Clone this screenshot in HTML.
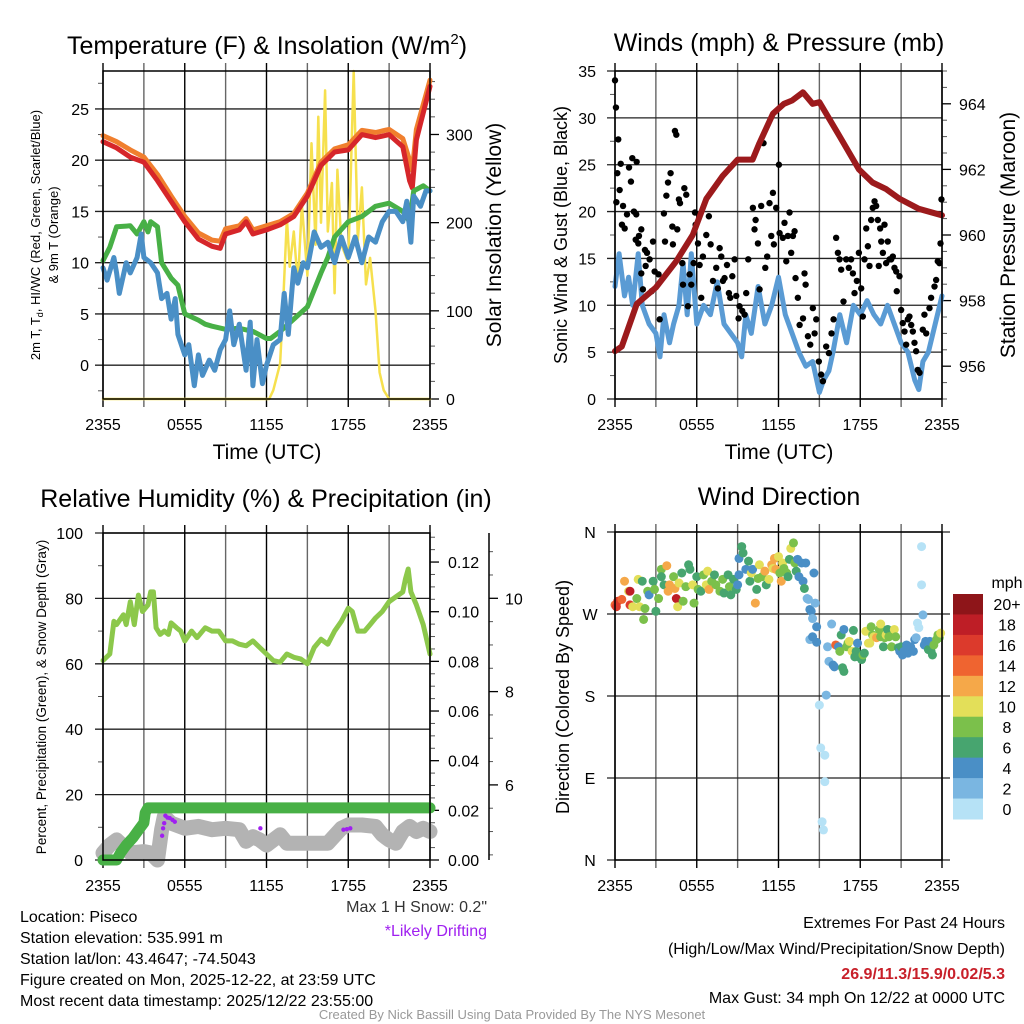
<!DOCTYPE html>
<html><head><meta charset="utf-8">
<style>
html,body{margin:0;padding:0;background:#fff;}
svg{display:block;font-family:"Liberation Sans",Arial,sans-serif;}
.nar{font-family:"Liberation Sans Narrow","Liberation Sans",sans-serif;}
</style></head>
<body>
<svg id="fig" width="1024" height="1024" viewBox="0 0 1024 1024" xmlns="http://www.w3.org/2000/svg">
<rect width="1024" height="1024" fill="#fff"/>
<text x="267" y="54" font-size="25" text-anchor="middle">Temperature (F) &amp; Insolation (W/m<tspan font-size="15" dy="-10">2</tspan><tspan dy="10">)</tspan></text>
<text x="779" y="51" font-size="25" text-anchor="middle">Winds (mph) &amp; Pressure (mb)</text>
<text x="266" y="507" font-size="25" text-anchor="middle">Relative Humidity (%) &amp; Precipitation (in)</text>
<text x="779" y="505" font-size="25" text-anchor="middle">Wind Direction</text>

<g class="nar" font-size="16">
<text x="20" y="922">Location: Piseco</text>
<text x="20" y="943">Station elevation: 535.991 m</text>
<text x="20" y="964">Station lat/lon: 43.4647; -74.5043</text>
<text x="20" y="985">Figure created on Mon, 2025-12-22, at 23:59 UTC</text>
<text x="20" y="1006">Most recent data timestamp: 2025/12/22 23:55:00</text>
</g>
<text class="nar" x="487" y="912" font-size="16" text-anchor="end" fill="#333">Max 1 H Snow: 0.2"</text>
<text class="nar" x="487" y="936" font-size="16" text-anchor="end" fill="#a020f0">*Likely Drifting</text>
<g class="nar" font-size="16" text-anchor="end">
<text x="1005" y="928">Extremes For Past 24 Hours</text>
<text x="1005" y="954">(High/Low/Max Wind/Precipitation/Snow Depth)</text>
<text x="1005" y="979" fill="#c8202a" font-weight="bold">26.9/11.3/15.9/0.02/5.3</text>
<text x="1005" y="1003">Max Gust: 34 mph On 12/22 at 0000 UTC</text>
</g>
<text class="nar" x="512" y="1019" font-size="13" text-anchor="middle" fill="#999">Created By Nick Bassill Using Data Provided By The NYS Mesonet</text>
</svg>
<script>
// ---------- DATA ----------
const timeTicks = ["2355","0555","1155","1755","2355"];
// temperature panel
const tempHours = [0,1,2,3,4,5,6,7,8,8.6,9,10,10.5,11,12,13,14,15,16,17,18,19,20,21,22,22.5,22.7,23,24];
const tempF = [21.8,21.2,20.3,19.8,18.0,16.0,14.0,12.3,11.6,11.4,12.8,13.2,14.0,12.8,13.2,13.7,14.5,16.5,19.5,20.8,21.0,22.5,22.2,22.5,21.3,18.0,17.3,22.0,27.2];
const temp9mF = [22.4,21.8,21.0,20.3,18.6,16.5,14.5,12.9,12.2,12.1,13.3,13.6,14.3,13.2,13.6,14.0,14.8,16.8,19.8,21.1,21.5,22.9,22.7,23.0,22.1,20.0,19.0,23.0,27.8];
const dewHours = [0,0.5,1,2,2.5,3,3.3,3.5,4,4.3,5,5.5,6,7,7.5,8,9,10,11,12,12.3,13,14,15,16,16.5,17,18,19,20,21,22,22.5,22.8,23.5,24];
const dewF = [10.2,11.5,13.5,13.6,12.8,14.0,13.0,14.0,13.5,10.0,8.5,7.8,5.0,4.4,4.0,3.8,3.5,3.6,3.3,2.6,2.6,3.3,4.5,5.7,9.0,10.5,12.5,14.0,14.5,15.5,15.8,15.0,14.0,17.0,17.5,17.0];
const wcHours = [0,0.3,0.8,1,1.2,1.7,2,2.5,2.8,3,3.5,4,4.3,4.7,5,5.3,5.5,6,6.3,6.7,7,7.3,7.8,8.2,8.6,9,9.3,9.6,10,10.5,10.8,11,11.3,11.7,12,12.5,13,13.3,13.6,14,14.3,14.7,15,15.5,16,16.5,17,17.5,18,18.5,19,19.5,20,20.5,21,21.5,22,22.3,22.6,22.8,23.3,23.7,24];
const wcF = [9.5,8.3,10.5,9.0,7.0,10.0,9.0,10.5,12.8,10.5,10.0,9.0,6.5,7.0,4.5,6.5,3.0,1.0,2.0,-2.0,1.0,-1.0,0.5,-0.5,1.5,2.5,5.3,2.0,4.0,-0.5,4.2,-2.0,2.5,-1.8,0.0,2.0,2.5,7.0,3.0,9.5,8.0,10.0,9.5,13.0,11.5,12.0,10.0,12.5,10.5,12.5,10.0,12.5,12.0,14.0,15.0,15.0,14.0,16.0,12.0,16.5,15.5,17.0,17.0];
const solarHours = [0,12.2,12.5,13,13.2,13.5,13.7,14,14.3,14.6,15,15.3,15.6,15.8,16,16.3,16.5,16.8,17,17.2,17.5,18,18.4,18.7,19,19.3,19.6,20,20.3,20.6,21,24];
const solarW = [0,0,10,40,100,205,150,190,130,220,140,290,175,320,200,350,190,245,120,260,175,155,372,180,240,130,160,100,30,10,0,0];
// winds panel
const windHours = [0,0.3,0.7,1,1.3,1.7,2,2.5,3,3.3,3.6,4,4.3,4.7,5,5.3,5.6,6,6.5,7,7.5,8,8.5,9,9.3,9.6,10,10.5,11,11.5,12,12.5,13,13.5,14,14.5,15,15.3,15.7,16,16.5,17,17.5,18,18.5,19,19.5,20,20.5,21,21.5,22,22.3,22.6,23,23.5,24];
const windMph = [12,15.5,11,13,10,15.5,10,8,7,4.5,9,6,8,10,14.5,9,15.5,8,10,9,12.5,8,7,6,4.5,9,7,12,8,10,13,9,7,5,3.5,4,0.7,2,3,5,9,6,10,9,10.5,9,8,10,8,6,5,2,1,4,5,8,11];
const gustHours = [0,0.07,0.24,0.17,0.1,0.42,0.34,0.59,0.51,0.71,0.88,1.03,1.17,1.27,1.59,1.39,1.56,1.52,1.76,1.93,1.71,1.93,2.2,2.35,2.25,2.79,2.91,2.54,2.05,2.69,3.2,3.28,3.59,3.67,3.89,4.08,3.77,4.21,4.25,4.4,4.5,4.57,4.69,4.77,4.94,5.09,5.23,4.99,5.35,5.6,5.48,5.77,5.87,5.92,6.09,6.21,6.33,6.45,6.7,6.89,7.02,7.19,7.43,7.55,7.68,7.8,7.92,8.04,8.22,8.36,8.46,8.61,8.78,8.9,9.07,9.14,9.34,9.51,9.63,9.78,10.12,10.24,10.32,10.49,10.61,10.73,10.9,11.03,11.17,11.34,11.47,11.59,11.66,11.83,12.03,12.08,12.32,12.44,12.57,12.69,12.81,12.93,13.06,13.18,13.25,13.42,13.55,13.8,13.91,13.99,14.16,14.33,14.52,14.65,14.77,14.96,15.13,15.26,15.5,15.7,15.89,16.04,16.23,16.36,16.48,16.6,16.77,16.97,17.16,17.33,17.46,17.58,17.75,17.9,18.07,18.19,18.31,18.44,18.56,18.68,18.8,18.92,19.05,19.17,19.29,19.36,19.46,19.54,19.66,19.78,19.9,20.02,20.15,20.27,20.39,20.51,20.64,20.68,20.88,21.0,21.12,21.25,21.37,21.49,21.61,21.74,21.86,21.98,22.1,22.22,22.35,22.59,22.71,22.84,23.08,23.2,23.45,23.57,23.69,23.81,23.89,23.96];
const gustMph = [34.0,31.1,27.7,24.1,21.0,25.1,22.3,20.6,18.6,18.2,19.7,24.7,23.2,25.7,25.3,20.0,19.7,17.0,17.4,18.1,16.6,13.4,15.9,15.6,14.2,16.8,13.6,14.9,11.7,11.5,13.3,8.5,19.8,16.8,23.1,24.1,21.7,18.4,16.5,28.6,28.2,18.1,21.3,20.9,14.5,22.5,21.8,12.2,9.9,12.2,13.3,14.5,19.9,18.6,16.6,14.3,10.8,15.2,17.5,19.5,16.5,12.6,14.0,11.8,16.1,15.2,12.6,12.9,14.3,11.3,10.8,13.1,14.9,11.0,8.6,9.9,9.4,9.0,11.3,14.9,20.4,18.1,19.1,16.6,11.7,20.6,27.3,14.0,15.2,20.9,17.4,22.0,16.5,20.4,25.0,17.7,17.2,18.8,14.7,17.4,19.9,15.6,17.4,17.9,12.9,10.8,7.9,8.6,13.4,12.2,6.7,5.8,9.7,7.0,8.5,4.0,2.6,1.9,5.6,4.9,7.0,8.5,17.2,15.6,14.9,13.8,10.4,14.9,14.0,14.9,13.4,11.3,12.6,15.6,11.8,8.8,14.9,18.2,16.3,14.2,19.1,20.4,21.1,20.6,19.1,14.2,18.2,16.8,15.6,18.6,14.5,16.8,14.9,14.9,15.2,14.0,13.6,11.5,13.1,9.5,8.1,7.2,5.8,8.5,8.8,7.9,7.2,6.0,5.1,3.1,2.8,7.4,9.0,7.0,9.7,10.8,12.0,12.7,14.7,14.5,16.6,21.3];
const presHours = [0,0.5,1.6,3,4.5,5.7,6.7,7.9,9,10.1,10.6,11.6,12.4,13,13.8,14.5,15,16.5,17.9,18.9,19.9,20.9,22.3,24];
const presMb = [956.46,956.6,957.9,958.4,959.2,960.0,961.1,961.8,962.3,962.3,962.8,963.7,964.0,964.1,964.35,964.0,964.05,963.0,962.0,961.6,961.4,961.1,960.8,960.6];
// humidity panel
const rhHours = [0,0.5,0.8,1,1.5,1.7,2,2.3,2.6,2.9,3.3,3.5,3.7,3.9,4.2,4.5,4.8,5,5.4,5.7,6,6.5,6.9,7.5,8,8.5,9,9.5,10,10.5,11,11.5,12,12.5,13,13.5,14,14.5,15,15.5,16,16.5,17,17.5,18,18.3,18.7,19.2,19.6,20,20.5,21,21.5,22,22.2,22.4,22.6,23,23.5,24];
const rhPct = [61,63,73,72,75,72,79,72,81,76,78,82,82,71,69,70,69,72.5,71,70,67,70,68,71,70,70,67,67,66,65.5,67,65,63,61,60.5,63,62,61.5,60,65,67.5,66,70,73,77,76,70,70,72,74,76,79,80.5,82,86,89,82,78,72,63];
const precipHours = [0,0.5,1,1.3,1.7,2.2,2.6,3.0,3.1,3.3,6,9,12,15,18,21,24];
const precipIn = [0,0,0,0.003,0.006,0.009,0.012,0.015,0.019,0.021,0.021,0.021,0.021,0.021,0.021,0.021,0.021];
const snowHours = [0,0.5,1,2,3,3.5,4,4.3,4.5,5,6,7,8,9,10,10.5,11,11.5,12,13,13.5,14,15,16.5,17.5,18,19,20,20.5,21,21.5,22,22.5,23,23.5,24];
const snowIn = [4.54,4.71,4.82,4.54,4.57,4.54,4.39,5.04,5.32,5.18,5.07,5.11,5.04,5.07,5.04,4.79,4.89,4.82,4.71,4.93,4.75,4.75,4.75,4.75,5.07,5.14,5.14,5.11,4.93,4.82,4.75,5.0,5.11,5.0,5.07,5.0];
const driftHours = [4.34,4.41,4.49,4.58,4.73,4.9,5.1,5.27,11.55,17.65,17.9,18.15];
const driftIn = [4.91,5.07,5.18,5.34,5.3,5.29,5.25,5.21,5.07,5.04,5.05,5.07];
// wind direction panel
const dirHours = [0,0.2,0.5,0.1,0.7,1.0,1.1,1.1,1.3,1.6,1.7,1.8,2.0,2.1,2.2,2.4,2.5,2.8,2.9,3.0,3.2,3.4,3.4,3.6,3.8,3.9,4.0,4.3,4.4,4.5,4.6,4.7,4.9,5.0,5.2,5.4,5.5,5.7,5.8,6.0,6.1,6.3,6.5,6.7,6.8,6.9,7.1,7.3,7.4,7.7,7.9,8.0,8.3,8.4,8.5,8.7,8.9,9.0,9.1,9.1,9.3,9.4,9.6,9.8,9.9,10.0,10.1,10.3,10.4,10.5,10.6,10.8,11.0,11.1,11.3,11.5,11.6,11.7,11.8,12.0,12.1,12.2,12.3,12.4,12.6,12.7,12.8,12.9,13.1,13.2,13.3,13.4,13.5,13.7,13.8,13.9,14.0,14.1,14.2,14.3,14.4,14.5,14.6,14.7,14.8,14.3,14.5,14.8,15.0,15.1,15.2,15.3,15.4,15.4,15.5,15.6,15.7,15.9,16.0,16.1,16.2,16.4,16.5,16.6,16.7,16.8,16.8,17.0,17.1,17.2,17.4,17.5,17.6,17.7,17.8,17.9,18.1,18.2,18.3,18.4,18.6,18.7,18.8,18.9,19.0,19.2,19.4,19.5,19.5,19.7,19.8,19.9,20.0,20.1,20.3,20.4,20.5,20.6,20.8,20.9,21.0,21.1,21.2,21.4,21.5,21.6,21.7,21.9,22.0,22.1,22.2,22.3,22.5,22.5,22.6,22.7,22.8,23.0,23.1,23.2,23.3,23.4,23.6,23.7,23.8,23.9];
const dirDeg = [280,284,286,278,306,295,295,280,278,287,308,278,306,264,276,295,291,306,297,273,287,319,311,302,323,295,302,311,298,287,278,304,315,284,300,324,319,302,282,311,297,295,313,302,317,297,306,313,302,295,308,293,313,300,291,308,297,302,313,331,344,337,319,328,306,315,319,282,297,309,324,311,317,302,308,324,320,331,319,333,315,306,326,320,315,311,330,342,348,326,317,330,311,326,306,298,326,287,286,275,273,265,315,282,256,242,245,239,170,123,42,33,86,115,181,234,218,259,214,212,236,234,229,247,211,207,253,234,238,240,229,252,223,229,238,223,220,225,227,251,238,238,256,247,245,244,253,259,245,234,244,247,253,245,234,247,253,245,233,229,234,225,229,236,227,231,234,229,242,244,260,255,344,302,269,236,240,231,240,229,225,236,242,247,244,249];
const dirSpeed = [14,16,14,16,12,10,18,16,10,8,10,10,6,8,8,8,4,6,8,6,8,8,6,6,12,12,12,8,12,18,10,10,6,8,8,6,6,10,8,6,8,6,8,10,10,12,8,6,8,8,8,6,6,8,6,6,6,4,4,4,6,6,4,6,6,10,4,12,6,8,10,8,12,6,10,12,10,12,12,10,8,12,10,8,8,6,6,10,8,8,6,4,4,4,4,6,4,2,2,4,4,2,4,2,4,2,4,4,0,0,0,0,0,0,2,2,2,2,4,4,14,4,8,6,6,6,4,8,8,10,10,6,6,6,4,6,6,8,6,10,10,10,8,8,10,12,8,10,8,6,8,10,6,8,8,8,10,8,6,4,6,4,4,4,4,4,4,4,4,2,0,0,0,0,2,4,4,6,4,6,6,8,8,8,8,10];
const cbLabels = ["20+","18","16","14","12","10","8","6","4","2","0"];
const cbColors = ["#8e1519","#be1e26","#dc3a2c","#ef6430","#f5a849","#e3df59","#7bc04b","#47a56f","#4a8fc6","#7ab6e1","#b6e2f6"];

// ---------- HELPERS ----------
const NS = "http://www.w3.org/2000/svg";
const fig = document.getElementById('fig');
function mk(tag, attrs, parent){ const e=document.createElementNS(NS,tag); for(const k in attrs) e.setAttribute(k,attrs[k]); (parent||fig).appendChild(e); return e; }
function lin(d0,d1,r0,r1){ return v=> r0+(v-d0)/(d1-d0)*(r1-r0); }
function pathD(xs,ys,fx,fy){ return xs.map((h,i)=>(i?'L':'M')+fx(h).toFixed(1)+','+fy(ys[i]).toFixed(1)).join(''); }
function colorFor(s){ const idx=Math.min(10,Math.max(0,Math.floor(s/2))); return cbColors[10-idx]; }

function panelFrame(name,x0,x1,y0,y1){
  const g=mk('g',{});
  
  
  for(let h=0;h<=24;h+=3){
    const x=lin(0,24,x0,x1)(h);
    const l=mk('line',{x1:x,x2:x,y1:y0-8,y2:y1+8,stroke:(h%6===0)?'#000':'#666','stroke-width':1.4},g);
    
    
  }
  timeTicks.forEach((t,i)=>{
    const x=lin(0,24,x0,x1)(i*6);
    const tx=mk('text',{x:x,y:y1+31,'font-size':16,'text-anchor':'middle'},g);
    tx.textContent=t;
    
    
  });
  return g;
}
function hGrid(g,ys,x0,x1,labels,lx,anchor){
  ys.forEach((y,i)=>{
    const l=mk('line',{x1:x0-8,x2:x1,y1:y,y2:y,stroke:'#222','stroke-width':1.3},g);
    
    
    if(labels){ const t=mk('text',{x:lx,y:y+6,'font-size':16,'text-anchor':anchor||'end'},g); t.textContent=labels[i];
      
       }
  });
}
function minorTicks(g,vals,fy,x,dir,len){
  vals.forEach(v=>{ const y=fy(v); const l=mk('line',{x1:x,x2:x+dir*len,y1:y,y2:y,stroke:'#555','stroke-width':1},g);
    
     });
}
function rightTicks(g,vals,fy,x,labels,lx){
  vals.forEach((v,i)=>{ const y=fy(v); const l=mk('line',{x1:x,x2:x+9,y1:y,y2:y,stroke:'#000','stroke-width':1.3},g);
    
    
    const t=mk('text',{x:lx,y:y+6,'font-size':16},g); t.textContent=labels[i];
    
     });
}
function vtext(x,y,txt,size,name,fill){
  const t=mk('text',{x:0,y:0,'font-size':size,'text-anchor':'middle',transform:`translate(${x},${y}) rotate(-90)`,fill:fill||'#000'});
  t.textContent=txt;   return t;
}
function series(d,color,w,name,parent){
  const p=mk('path',{d:d,fill:'none',stroke:color,'stroke-width':w,'stroke-linejoin':'round','stroke-linecap':'round'},parent);
    return p;
}
function dots(xs,ys,fx,fy,r,colorFn,name){
  const g=mk('g',{});  
  xs.forEach((h,i)=>{ const c=mk('circle',{cx:fx(h),cy:fy(ys[i]),r:r,fill:colorFn(i)},g);
      });
  return g;
}

// ---------- PANEL 1: Temperature ----------
(function(){
  const x0=103,x1=430,y0=71,y1=399;
  const fx=lin(0,24,x0,x1), fy=lin(-3.3,28.7,y1,y0), fs=lin(0,372,y1,y0);
  const g=panelFrame('temperature',x0,x1,y0,y1);
  hGrid(g,[0,5,10,15,20,25].map(fy),x0,x1,["0","5","10","15","20","25"],x0-14);
  minorTicks(g,[-2.5,2.5,7.5,12.5,17.5,22.5,27.5],fy,x0,-1,5);
  const fsTicks=[]; for(let v=20;v<=360;v+=20) if(v%100) fsTicks.push(v);
  minorTicks(g,fsTicks,fs,x1,1,5);
  rightTicks(g,[0,100,200,300],fs,x1,["0","100","200","300"],x1+16);
  series(pathD(solarHours,solarW,fx,fs),'#f6e04e',2.5,'solar-insolation-line');
  series(pathD(tempHours,temp9mF,fx,fy),'#f07f2e',5,'temp-9m-line');
  series(pathD(tempHours,tempF,fx,fy),'#d6262a',5,'temp-2m-line');
  series(pathD(dewHours,dewF,fx,fy),'#48b046',5,'dewpoint-line');
  series(pathD(wcHours,wcF,fx,fy),'#4a8fc6',5,'windchill-line');
  mk('rect',{x:x0,y:y0,width:x1-x0,height:y1-y0,fill:'none',stroke:'#000','stroke-width':1.5});
  const t1=vtext(40,235,'',13,'temperature-y-axis-title');
  t1.innerHTML='2m T, T<tspan font-size="9" dy="3">d</tspan><tspan dy="-3">, HI/WC (Red, Green, Scarlet/Blue)</tspan>';
  vtext(58,235,'& 9m T (Orange)',13,'temperature-y-axis-title-line2');
  vtext(501,235,'Solar Insolation (Yellow)',21,'solar-y-axis-title');
  const xt=mk('text',{x:267,y:459,'font-size':21,'text-anchor':'middle'}); xt.textContent='Time (UTC)';
   
})();

// ---------- PANEL 2: Winds ----------
(function(){
  const x0=615,x1=942,y0=71,y1=399;
  const fx=lin(0,24,x0,x1), fy=lin(0,35,y1,y0), fp=lin(955,965,y1,y0);
  const g=panelFrame('winds',x0,x1,y0,y1);
  hGrid(g,[0,5,10,15,20,25,30,35].map(fy),x0,x1,["0","5","10","15","20","25","30","35"],x0-19);
  minorTicks(g,[2.5,7.5,12.5,17.5,22.5,27.5,32.5],fy,x0,-1,5);
  const pm=[]; for(let v=955;v<=965;v+=0.5) if(v%2) pm.push(v);
  minorTicks(g,pm,fp,x1,1,5);
  rightTicks(g,[956,958,960,962,964],fp,x1,["956","958","960","962","964"],x1+17);
  series(pathD(windHours,windMph,fx,fy),'#5a9bd4',5,'sonic-wind-line');
  dots(gustHours,gustMph,fx,fy,3.2,()=>'#000','wind-gust-dots');
  series(pathD(presHours,presMb,fx,fp),'#9c1a1c',6,'pressure-line');
  mk('rect',{x:x0,y:y0,width:x1-x0,height:y1-y0,fill:'none',stroke:'#000','stroke-width':1.5});
  vtext(567,235,'Sonic Wind & Gust (Blue, Black)',18,'wind-y-axis-title');
  vtext(1015,235,'Station Pressure (Maroon)',21,'pressure-y-axis-title');
  const xt=mk('text',{x:779,y:459,'font-size':21,'text-anchor':'middle'}); xt.textContent='Time (UTC)';
   
})();

// ---------- PANEL 3: Humidity ----------
(function(){
  const x0=103,x1=430,y0=533,y1=860;
  const fx=lin(0,24,x0,x1), fy=lin(0,100,y1,y0), fpr=lin(0,0.1317,y1,y0), fsn=lin(4.39,11.4,y1,y0);
  const g=panelFrame('humidity',x0,x1,y0,y1);
  hGrid(g,[0,20,40,60,80,100].map(fy),x0,x1,["0","20","40","60","80","100"],x0-20);
  minorTicks(g,[10,30,50,70,90],fy,x0,-1,5);
  const pm=[]; for(let i=1;i<=26;i++) if(i%4) pm.push(i*0.005);
  minorTicks(g,pm,fpr,x1,1,5);
  rightTicks(g,[0,0.02,0.04,0.06,0.08,0.10,0.12],fpr,x1,["0.00","0.02","0.04","0.06","0.08","0.10","0.12"],x1+18);
  const ax=mk('line',{x1:489,x2:489,y1:y0,y2:y1,stroke:'#000','stroke-width':1.5});
   
  const sm=[]; for(let v=4.5;v<=11;v+=0.5) if(v%2) sm.push(v);
  minorTicks(g,sm,fsn,489,1,4);
  rightTicks(g,[6,8,10],fsn,489,["6","8","10"],505);
  series(pathD(snowHours,snowIn,fx,fsn),'#b3b3b3',15,'snow-depth-line');
  series(pathD(precipHours,precipIn,fx,fpr),'#48b046',11,'precipitation-line');
  dots(driftHours,driftIn,fx,fsn,2.2,()=>'#a020f0','drifting-dots');
  series(pathD(rhHours,rhPct,fx,fy),'#8cc84b',5,'relative-humidity-line');
  mk('rect',{x:x0,y:y0,width:x1-x0,height:y1-y0,fill:'none',stroke:'#000','stroke-width':1.5});
  vtext(46,697,'Percent, Precipitation (Green), & Snow Depth (Gray)',13.5,'humidity-y-axis-title');
})();

// ---------- PANEL 4: Wind Direction ----------
(function(){
  const x0=615,x1=942,y0=532,y1=860;
  const fx=lin(0,24,x0,x1), fy=lin(0,360,y1,y0);
  const g=panelFrame('wind-direction',x0,x1,y0,y1);
  hGrid(g,[360,270,180,90,0].map(fy),x0,x1+8,["N","W","S","E","N"],x0-25,'middle');
  dots(dirHours,dirDeg,fx,fy,4.5,i=>colorFor(dirSpeed[i]),'wind-direction-dots');
  mk('rect',{x:x0,y:y0,width:x1-x0,height:y1-y0,fill:'none',stroke:'#000','stroke-width':1.5});
  vtext(569,697,'Direction (Colored By Speed)',18,'direction-y-axis-title');
  const cb=mk('g',{});  
  const bh=225/cbColors.length;
  cbColors.forEach((c,i)=>{
    const r=mk('rect',{x:953,y:594+i*bh,width:30,height:bh+0.5,fill:c},cb);
     
    const t=mk('text',{x:1007,y:594+i*bh+bh/2+6,'font-size':16,'text-anchor':'middle'},cb);
    t.textContent=cbLabels[i];  
  });
  const u=mk('text',{x:1007,y:588,'font-size':16,'text-anchor':'middle'},cb); u.textContent='mph';
   
})();
</script>
</body></html>
